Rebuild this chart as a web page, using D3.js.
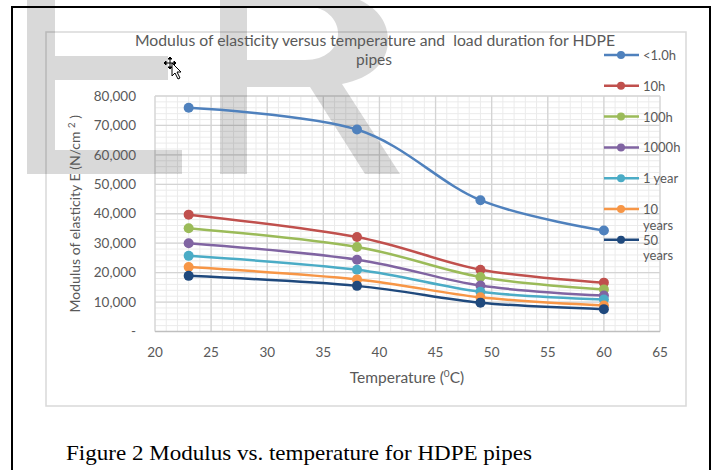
<!DOCTYPE html>
<html>
<head>
<meta charset="utf-8">
<script src="https://cdn.jsdelivr.net/npm/d3@7"></script>
<style>
  body { margin: 0; background: #fff; }
  svg text { white-space: pre; }
</style>
</head>
<body>
<svg id="chart" width="718" height="470"></svg>
<script>
// temperatures (deg C) at which the modulus was read
const temps = [23, 38, 49, 60];

// modulus of elasticity, N/cm2, one array per load duration
const lessThan1h = [76000, 68600, 44600, 34300];
const tenHours = [39700, 32100, 21000, 16600];
const hundredHours = [35100, 28700, 18500, 14300];
const thousandHours = [30000, 24400, 15600, 12200];
const oneYear = [25700, 21000, 13500, 10900];
const tenYears = [21900, 17700, 11600, 8800];
const fiftyYears = [18900, 15500, 9800, 7600];

const seriesNames = ["<1.0h", "10h", "100h", "1000h", "1 year", "10 years", "50 years"];
const seriesColors = ["#4f81bd", "#c0504d", "#9bbb59", "#8064a2", "#4bacc6", "#f79646", "#1f497d"];
const seriesValues = [lessThan1h, tenHours, hundredHours, thousandHours, oneYear, tenYears, fiftyYears];

const xTicks = [20, 25, 30, 35, 40, 45, 50, 55, 60, 65];
const yTicks = [0, 10000, 20000, 30000, 40000, 50000, 60000, 70000, 80000];

const svg = d3.select("#chart");
const font = "Lato, 'Open Sans', sans-serif";
const textGrey = "#595959";

const x = d3.scaleLinear().domain([20, 65]).range([155, 660]);
const y = d3.scaleLinear().domain([0, 80000]).range([331.5, 96]);

svg.append("rect").attr("width", 718).attr("height", 470).attr("fill", "#fff");

// chart area frame
svg.append("rect")
    .attr("x", 46).attr("y", 32).attr("width", 640).attr("height", 374)
    .attr("fill", "#fff").attr("stroke", "#d9d9d9").attr("stroke-width", 1.5);

// minor gridlines
const grid = svg.append("g");
grid.selectAll(".minor-x")
    .data(d3.range(20, 66, 1))
    .join("line")
    .attr("x1", d => x(d)).attr("x2", d => x(d))
    .attr("y1", y(80000)).attr("y2", y(0))
    .attr("stroke", "#ebebeb").attr("stroke-width", 1);
grid.selectAll(".minor-y")
    .data(d3.range(0, 80001, 2000))
    .join("line")
    .attr("x1", x(20)).attr("x2", x(65))
    .attr("y1", d => y(d)).attr("y2", d => y(d))
    .attr("stroke", "#ebebeb").attr("stroke-width", 1);

// major gridlines
grid.selectAll(".major-x")
    .data(xTicks)
    .join("line")
    .attr("x1", d => x(d)).attr("x2", d => x(d))
    .attr("y1", y(80000)).attr("y2", y(0))
    .attr("stroke", "#d4d4d4").attr("stroke-width", 1.3);
grid.selectAll(".major-y")
    .data(yTicks)
    .join("line")
    .attr("x1", x(20)).attr("x2", x(65))
    .attr("y1", d => y(d)).attr("y2", d => y(d))
    .attr("stroke", d => d === 0 ? "#bfbfbf" : "#d4d4d4").attr("stroke-width", 1.3);

// watermark letters, drawn semi transparent over the grid
const mark = svg.append("g").attr("fill", "#000").attr("fill-opacity", 0.15);
mark.append("path")
    .attr("d", "M27,-5 L55,-5 L55,56 L168,56 L168,80 L55,80 L55,150 L182,150 L182,174 L27,174 Z");
mark.append("path")
    .attr("fill-rule", "evenodd")
    .attr("d", "M220,-10 L305,-10 C362,-10 388,12 388,40 C388,62 372,78 342,84 L400,174 L365,174 L310,87 L247,87 L247,174 L220,174 Z " +
               "M247,6 L305,6 C326,6 338,20 338,33 C338,48 326,60 305,60 L247,60 Z");

// title
const title = svg.append("g").attr("font-family", font).attr("fill", textGrey)
    .attr("font-size", 15.5).attr("text-anchor", "middle");
title.append("text").attr("x", 375).attr("y", 46)
    .attr("textLength", 480).attr("lengthAdjust", "spacingAndGlyphs")
    .text("Modulus of elasticity versus temperature and  load duration for HDPE");
title.append("text").attr("x", 374).attr("y", 65).text("pipes");

// y tick labels
svg.append("g").selectAll("text")
    .data(yTicks)
    .join("text")
    .attr("x", 136).attr("y", d => y(d)).attr("dy", "0.35em")
    .attr("text-anchor", "end")
    .attr("font-family", font).attr("font-size", 13.5).attr("fill", textGrey)
    .text(d => d === 0 ? "-" : d3.format(",")(d));

// x tick labels
svg.append("g").selectAll("text")
    .data(xTicks)
    .join("text")
    .attr("x", d => x(d)).attr("y", 357)
    .attr("text-anchor", "middle")
    .attr("font-family", font).attr("font-size", 13.5).attr("fill", textGrey)
    .text(d => d);

// axis titles
const yTitle = svg.append("text")
    .attr("transform", "translate(80," + y(40000) + ") rotate(-90)")
    .attr("text-anchor", "middle")
    .attr("font-family", font).attr("font-size", 14).attr("fill", textGrey);
yTitle.append("tspan").text("Modulus of elasticity E (N/cm ");
yTitle.append("tspan").attr("font-size", 9.5).attr("dy", -5).text("2");
yTitle.append("tspan").attr("dy", 5).text(" )");

const xTitle = svg.append("text")
    .attr("x", 407).attr("y", 383)
    .attr("text-anchor", "middle")
    .attr("font-family", font).attr("font-size", 15.5).attr("fill", textGrey);
xTitle.append("tspan").text("Temperature (");
xTitle.append("tspan").attr("font-size", 10).attr("dy", -6).text("0");
xTitle.append("tspan").attr("dy", 6).text("C)");

// series lines, smoothed like the spreadsheet
const line = d3.line()
    .x((d, i) => x(temps[i]))
    .y(d => y(d))
    .curve(d3.curveCardinal.tension(0));

const series = svg.append("g");
seriesValues.forEach(function (vals, k) {
    const g = series.append("g");
    g.append("path")
        .attr("d", line(vals))
        .attr("fill", "none")
        .attr("stroke", seriesColors[k])
        .attr("stroke-width", 2.5);
    g.selectAll("circle")
        .data(vals)
        .join("circle")
        .attr("cx", (d, i) => x(temps[i]))
        .attr("cy", d => y(d))
        .attr("r", 5)
        .attr("fill", seriesColors[k]);
});

// legend
const legend = svg.append("g").attr("font-family", font).attr("font-size", 13).attr("fill", textGrey);
seriesNames.forEach(function (name, k) {
    const ly = 55 + k * 30.8;
    legend.append("line")
        .attr("x1", 604).attr("x2", 639).attr("y1", ly).attr("y2", ly)
        .attr("stroke", seriesColors[k]).attr("stroke-width", 2.5);
    legend.append("circle")
        .attr("cx", 621).attr("cy", ly).attr("r", 4)
        .attr("fill", seriesColors[k]);
    const parts = name.split(" ");
    if (parts.length > 1 && parts[1] === "years") {
        // wraps onto two lines in the original
        legend.append("text").attr("x", 643).attr("y", ly + 5).text(parts[0]);
        legend.append("text").attr("x", 643).attr("y", ly + 20.5).text(parts[1]);
    } else {
        legend.append("text").attr("x", 643).attr("y", ly + 5).text(name);
    }
});

// move cursor left in the screenshot
const cursor = svg.append("g").attr("stroke", "#000").attr("stroke-width", 1);
cursor.append("line").attr("x1", 164).attr("x2", 176).attr("y1", 63).attr("y2", 63);
cursor.append("line").attr("x1", 170).attr("x2", 170).attr("y1", 57).attr("y2", 69);
cursor.append("path")
    .attr("d", "M164,63 L166,61 L166,65 Z M176,63 L174,61 L174,65 Z M170,57 L168,59 L172,59 Z M170,69 L168,67 L172,67 Z")
    .attr("fill", "#000");
cursor.append("path")
    .attr("d", "M172,63 L172,76 L175,73 L178,79 L180,78 L177,72 L181,72 Z")
    .attr("fill", "#fff");

// page frame
svg.append("path")
    .attr("d", "M12,480 L12,7 L710,7 L710,480")
    .attr("fill", "none").attr("stroke", "#000").attr("stroke-width", 2);

// caption
svg.append("text")
    .attr("x", 66).attr("y", 460)
    .attr("font-family", "'Liberation Serif', serif").attr("font-size", 22).attr("fill", "#000")
    .attr("textLength", 466).attr("lengthAdjust", "spacingAndGlyphs")
    .text("Figure 2 Modulus vs. temperature for HDPE pipes");
</script>
</body>
</html>
